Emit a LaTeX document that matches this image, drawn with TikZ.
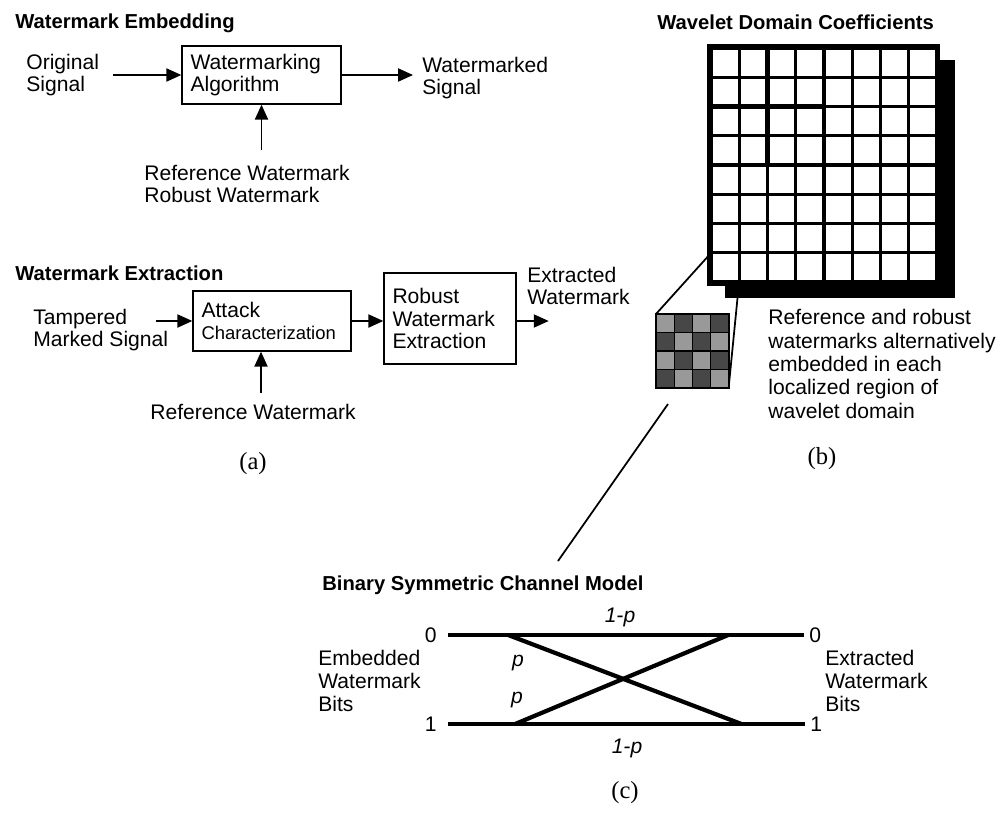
\documentclass[tikz,border=0pt]{standalone}
\usepackage{fontspec}
\setmainfont{Liberation Sans}
\newfontfamily\capfont{Liberation Serif}
\usepackage{xcolor}
\usetikzlibrary{arrows.meta,positioning,calc}
\newcommand{\wmfont}{\fontsize{12}{13}\selectfont}
\definecolor{patchlight}{gray}{0.6}
\definecolor{patchdark}{gray}{0.28}
\tikzset{
  wmbox/.style={
    draw,
    line width=0.8pt,
    align=left,
    inner xsep=0.17cm,
    inner ysep=0pt,
    font=\wmfont
  },
  wmlabel/.style={
    anchor=west,
    align=left,
    inner sep=0pt,
    font=\wmfont
  },
  wmtitle/.style={
    anchor=west,
    inner sep=0pt,
    font=\bfseries\fontsize{11.5}{13}\selectfont
  },
  wmcap/.style={
    inner sep=0pt,
    font=\capfont\fontsize{14}{16}\selectfont
  },
  wmarrow/.style={
    -{Triangle[length=8.5pt,width=7.5pt]},
    line width=0.8pt
  },
  gridthin/.style={line width=1.5pt},
  gridthick/.style={line width=2.8pt},
  zoomline/.style={line width=1pt},
  bscline/.style={line width=2.4pt},
  bsclabel/.style={inner sep=0pt, font=\wmfont}
}

\begin{document}
\begin{tikzpicture}[x=0.02cm, y=-0.02cm]
    \useasboundingbox (0,0) rectangle (1000,815);

    \node[wmtitle] (embtitle) at (15,23) {Watermark Embedding};
    \node[wmbox, text width=2.84cm, minimum height=1.16cm] (wmalg) at (261.5,75) {Watermarking\\Algorithm};
    \node[wmlabel] (orig) at (26,75) {Original\\Signal};
    \node[wmlabel] (wmsig) at (422,78) {Watermarked\\Signal};
    \node[wmlabel] (refrob) at (144,184) {Reference Watermark\\Robust Watermark};

    \draw[wmarrow, shorten <=0.27cm] (orig.east |- wmalg.west) -- (wmalg.west);
    \draw[wmarrow, shorten >=0.18cm] (wmalg.east) -- (wmalg.east -| wmsig.west);
    \draw[wmarrow, shorten <=0.28cm] (wmalg.south |- refrob.north) -- (wmalg.south);

    \node[wmtitle] (exttitle) at (15,273) {Watermark Extraction};
    \node[wmbox, text width=2.82cm, minimum height=1.2cm] (attack) at (272,321) {Attack\\{\fontsize{10.5}{12}\selectfont Characterization}};
    \node[wmbox, text width=2.30cm, minimum height=1.82cm] (robust) at (450,318.5) {Robust\\Watermark\\Extraction};
    \node[wmlabel] (tamper) at (33,330) {Tampered\\Marked Signal};
    \node[wmlabel] (extwm) at (527,286) {Extracted\\Watermark};
    \node[wmlabel] (refwm) at (150,412) {Reference Watermark};
    \node[wmcap] (capa) at (253,464) {(a)};

    \coordinate (tampin) at ([xshift=-0.72cm]attack.west);
    \coordinate (refin) at ([xshift=-0.22cm]attack.south);
    \coordinate (extout) at ($(attack.east -| robust.east)+(32,0)$);
    \draw[wmarrow] (tampin) -- (attack.west);
    \draw[wmarrow] (attack.east) -- (attack.east -| robust.west);
    \draw[wmarrow] (attack.east -| robust.east) -- (extout);
    \draw[wmarrow, shorten <=0.22cm] (refin |- refwm.north) -- (refin);

    \node[wmtitle] (wavtitle) at (657,22) {Wavelet Domain Coefficients};
    \fill (725,60) rectangle (955,298);
    \draw[line width=3pt, fill=white] (710,47) rectangle (937.5,283);
    \foreach \i in {1,...,7} {
      \draw[gridthin] ({711+28.25*\i},48) -- ({711+28.25*\i},282);
      \draw[gridthin] (711,{48+29.25*\i}) -- (937,{48+29.25*\i});
    }
    \draw[gridthick] (824,48) -- (824,282);
    \draw[gridthick] (711,165) -- (937,165);
    \draw[gridthick] (767.5,48) -- (767.5,165);
    \draw[gridthick] (711,106.5) -- (824,106.5);

    \foreach \r in {0,...,3}
      \foreach \c in {0,...,3} {
        \pgfmathtruncatemacro{\cellpar}{mod(\r+\c,2)}
        \ifnum\cellpar=0 \def\cellcol{patchlight}\else\def\cellcol{patchdark}\fi
        \filldraw[fill=\cellcol, draw=black, line width=0.8pt] ({656+18.25*\c},{314+18.5*\r}) rectangle ++(18.25,18.5);
      }
    \draw[line width=1.2pt] (656,314) rectangle (729,388);

    \coordinate (cellnw) at (711,253);
    \coordinate (cellse) at (739,283);
    \coordinate (patchnw) at (656,314);
    \coordinate (patchse) at (729,384);
    \coordinate (patchfoot) at (668,404);
    \coordinate (bscfoot) at (558,561);
    \draw[zoomline] (cellnw) -- (patchnw);
    \draw[zoomline] (cellse) -- (patchse);
    \draw[zoomline] (patchfoot) -- (bscfoot);

    \node[wmlabel, font=\fontsize{12}{13.3}\selectfont] (regiontxt) at (768,364) {Reference and robust\\watermarks alternatively\\embedded in each\\localized region of\\wavelet domain};
    \node[wmcap] (capb) at (822,459) {(b)};

    \node[wmtitle] (bsctitle) at (322,585) {Binary Symmetric Channel Model};
    \coordinate (in0) at (448,635);
    \coordinate (out0) at (804,635);
    \coordinate (in1) at (448,724);
    \coordinate (out1) at (805,724);
    \draw[bscline] (in0) -- (out0);
    \draw[bscline] (in1) -- (out1);
    \draw[bscline] ($(in0)!0.169!(out0)$) -- ($(in1)!0.822!(out1)$);
    \draw[bscline] ($(in1)!0.188!(out1)$) -- ($(in0)!0.787!(out0)$);

    \node[bsclabel, left=0.22cm of in0] (zeroin) {0};
    \node[bsclabel, left=0.22cm of in1] (onein) {1};
    \node[bsclabel, right=0.1cm of out0] (zeroout) {0};
    \node[bsclabel, right=0.1cm of out1] (oneout) {1};
    \node[bsclabel] (keeptop) at (620,617) {\itshape 1-p};
    \node[bsclabel] (keepbot) at (627,748) {\itshape 1-p};
    \node[bsclabel] (fliptop) at (518,663) {\itshape p};
    \node[bsclabel] (flipbot) at (517,700) {\itshape p};
    \node[wmlabel] (embbits) at (318,681) {Embedded\\Watermark\\Bits};
    \node[wmlabel] (extbits) at (825,681) {Extracted\\Watermark\\Bits};
    \node[wmcap] (capc) at (625,793) {(c)};
\end{tikzpicture}
\end{document}
